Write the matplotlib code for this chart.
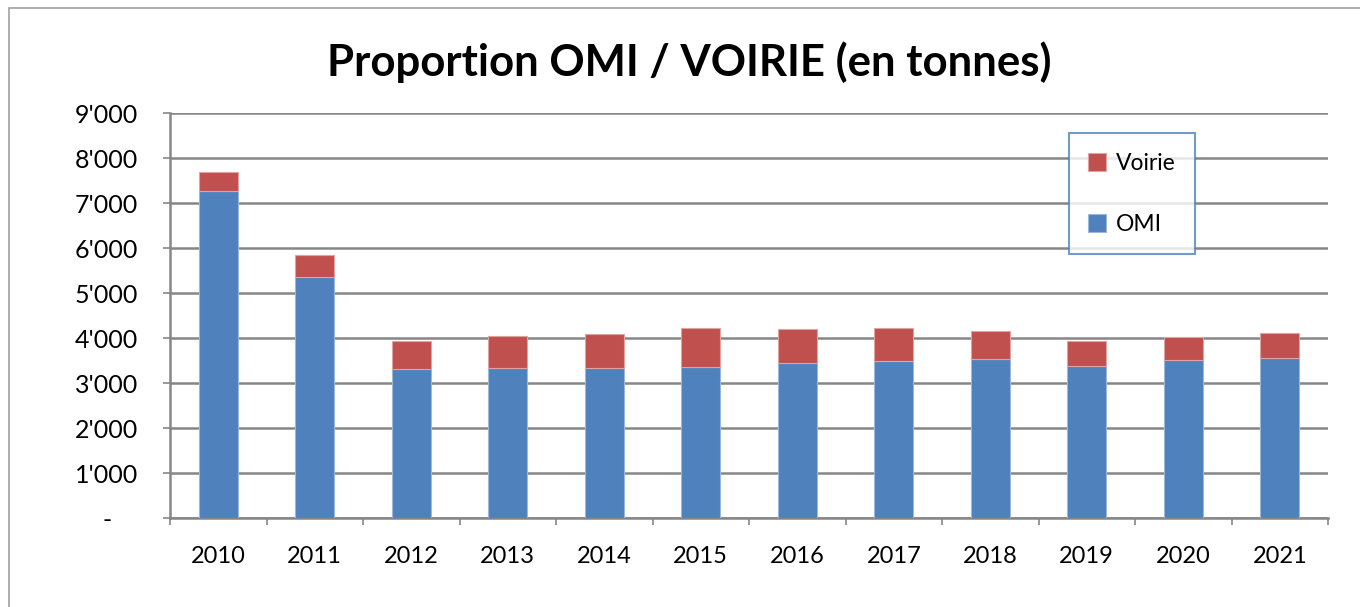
import numpy as np
from matplotlib import pyplot as plt
from matplotlib.patches import Rectangle
from matplotlib.ticker import FuncFormatter

plt.rcParams['font.family'] = ['Lato', 'DejaVu Sans']

years = ['2010', '2011', '2012', '2013', '2014', '2015', '2016', '2017', '2018', '2019', '2020', '2021']
omi = [7258, 5356, 3311, 3340, 3325, 3355, 3451, 3489, 3525, 3378, 3511, 3547]
total = [7680, 5844, 3940, 4051, 4096, 4214, 4207, 4214, 4162, 3940, 4022, 4118]
voirie = [t - o for t, o in zip(total, omi)]

blue = '#4F81BD'
red = '#C0504D'
grid = '#868686'

fig = plt.figure(figsize=(13.6, 6.07), dpi=100)
ax = fig.add_axes([0.125, 0.1466, 0.8515, 0.6672])

x = np.arange(len(years))
ax.bar(x, omi, width=0.4, color=blue, edgecolor='#9DB7DB', linewidth=0.8, label='OMI', zorder=3)
ax.bar(x, voirie, width=0.4, bottom=omi, color=red, edgecolor='#E0A3A1', linewidth=0.8, label='Voirie', zorder=3)

ax.set_xlim(-0.5, len(years) - 0.5)
ax.set_ylim(0, 9000)
ax.set_yticks(range(0, 9001, 1000))
ax.yaxis.set_major_formatter(FuncFormatter(lambda v, p: '-    ' if v == 0 else f"{int(v):,}".replace(',', "'")))
ax.grid(axis='y', color=grid, linewidth=1.8, zorder=0)

ax.set_xticks(x)
ax.set_xticklabels(years)
ax.set_xticks(np.arange(-0.5, len(years), 1), minor=True)
ax.tick_params(axis='x', which='major', length=0, pad=20, labelsize=17)
ax.tick_params(axis='x', which='minor', length=5, width=1.2, color=grid, direction='out')
ax.tick_params(axis='y', length=5, width=1.2, color=grid, pad=18, labelsize=18)

for s in ['top', 'right']:
    ax.spines[s].set_visible(False)
for s in ['left', 'bottom']:
    ax.spines[s].set_color(grid)
    ax.spines[s].set_linewidth(1.8)

fig.text(0.507, 0.898, 'Proportion OMI / VOIRIE (en tonnes)', ha='center', va='center',
         fontsize=31.5, fontweight='bold')

h, l = ax.get_legend_handles_labels()
leg = ax.legend(h[::-1], l[::-1], loc='upper left', bbox_to_anchor=(0.776, 0.95),
                fontsize=16.5, frameon=True, fancybox=False, labelspacing=1.75,
                handlelength=0.8, handleheight=0.8, handletextpad=0.4,
                borderpad=0.85, borderaxespad=0)
leg.get_frame().set_edgecolor(blue)
leg.get_frame().set_linewidth(1.5)
leg.set_zorder(5)

fig.patches.append(Rectangle((9 / 1360, -0.1), 1.2, 1.1 - 8 / 607,
                             transform=fig.transFigure, fill=False,
                             edgecolor='#A0A0A0', linewidth=1.2))

fig.savefig('out.png', dpi=100)
